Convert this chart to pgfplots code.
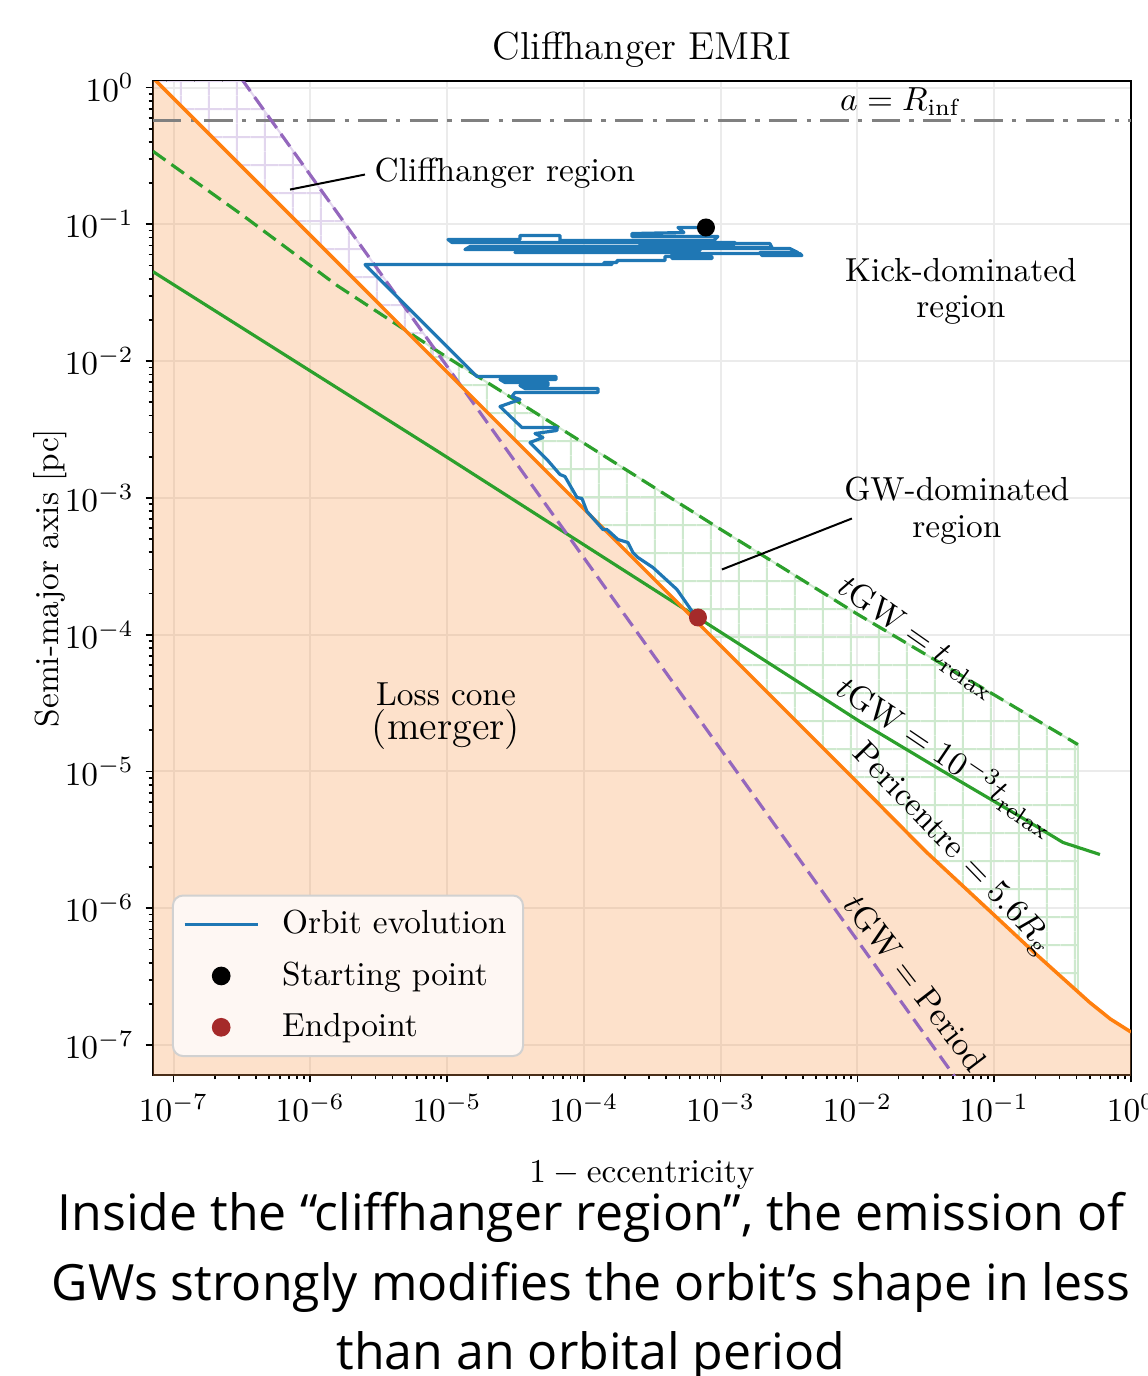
\documentclass[border=0pt]{standalone}
\usepackage{fontspec}
\usepackage{pgfplots}
\pgfplotsset{compat=1.18}
\usetikzlibrary{patterns}
\newfontfamily\capfont{Open Sans}
\definecolor{tabblue}{RGB}{31,119,180}
\definecolor{taborange}{RGB}{255,127,14}
\definecolor{peachbase}{RGB}{248,155,82}
\definecolor{tabgreen}{RGB}{44,160,44}
\definecolor{tabpurple}{RGB}{148,103,189}
\definecolor{lavhatch}{RGB}{226,214,238}
\definecolor{greenhatch}{RGB}{206,233,206}
\definecolor{endred}{RGB}{165,42,42}
\definecolor{refgray}{RGB}{128,128,128}
\definecolor{legbg}{RGB}{254,247,243}
\pgfdeclarepatternformonly{biggrid}{\pgfqpoint{0pt}{0pt}}{\pgfqpoint{8.34pt}{8.34pt}}{\pgfqpoint{8.34pt}{8.34pt}}{%
  \pgfsetlinewidth{0.6pt}%
  \pgfpathmoveto{\pgfqpoint{0pt}{4.17pt}}\pgfpathlineto{\pgfqpoint{8.34pt}{4.17pt}}%
  \pgfpathmoveto{\pgfqpoint{4.17pt}{0pt}}\pgfpathlineto{\pgfqpoint{4.17pt}{8.34pt}}%
  \pgfusepath{stroke}}
\begin{document}
\begin{tikzpicture}
\begin{axis}[
  name=ax,
  scale only axis, width=293.4pt, height=298.2pt,
  xmode=log, ymode=log,
  xmin=7.08e-8, xmax=1, ymin=6.04e-8, ymax=1.116,
  axis line style={line width=0.6pt},
  tick align=outside, tick pos=left,
  major tick length=2.2pt, minor tick length=1.3pt,
  every tick/.style={black, line width=0.5pt},
  grid=major, major grid style={black!8, line width=0.6pt},
  xtick={1e-7,1e-6,1e-5,1e-4,1e-3,1e-2,1e-1,1},
  ytick={1e-7,1e-6,1e-5,1e-4,1e-3,1e-2,1e-1,1},
  title={Cliffhanger EMRI},
  title style={font=\fontsize{11.7}{13}\selectfont, yshift=-5.6pt},
  xlabel={$1-\mathrm{eccentricity}$},
  ylabel={Semi-major axis [pc]},
  xlabel style={yshift=-5pt},
  ylabel style={yshift=-7.5pt},
  label style={font=\fontsize{10}{12}\selectfont},
  ticklabel style={font=\fontsize{10}{12}\selectfont},
  legend cell align=left,
  legend image code/.code={\draw[mark repeat=2,mark phase=2,#1] plot coordinates {(0pt,0pt) (11pt,0pt) (22pt,0pt)};},
  legend style={at={(0.0194,0.0181)}, anchor=south west, draw=black!18, line width=0.6pt,
    fill=legbg, rounded corners=3pt,
    font=\fontsize{10}{12}\selectfont, inner xsep=3pt, inner ysep=2.4pt, row sep=2.9pt,
    /tikz/every odd column/.append style={column sep=4.8pt}},
]
% loss cone fill
\addplot[draw=none, fill=peachbase, fill opacity=0.3, forget plot] coordinates {
 (7.079e-8,1.175) (1e-7,0.8318) (1e-6,0.08318) (1e-5,8.318e-3) (1e-4,8.318e-4)
 (1e-3,8.318e-5) (1e-2,8.318e-6) (3.162e-2,2.600e-6) (0.1,8.913e-7) (0.1995,4.677e-7)
 (0.3162,3.090e-7) (0.5012,2.042e-7) (0.7079,1.549e-7) (1,1.245e-7) (1,1e-8) (7.079e-8,1e-8)} -- cycle;
% cliffhanger hatch
\addplot[draw=lavhatch, line width=0.6pt, pattern=biggrid, pattern color=lavhatch, forget plot] coordinates {
 (7.079e-8,1.175) (2.512e-7,1.585) (1.271e-5,6.546e-3)} -- cycle;
% GW-dominated hatch
\addplot[draw=greenhatch, line width=0.6pt, pattern=biggrid, pattern color=greenhatch, forget plot] coordinates {
 (4.887e-6,0.01702) (8.913e-6,0.01148) (1e-4,2.512e-3) (1e-3,5.888e-4) (1e-2,1.413e-4)
 (0.1,3.631e-5) (0.4093,1.574e-5) (0.4093,2.460e-7) (0.3162,3.090e-7) (0.1995,4.677e-7)
 (0.1,8.913e-7) (3.162e-2,2.600e-6) (1e-2,8.318e-6) (1e-3,8.318e-5) (1e-4,8.318e-4) (1e-5,8.318e-3)} -- cycle;
% a = R_inf
\addplot[refgray, line width=0.9pt, dash pattern=on 8.5pt off 2.8pt on 1.3pt off 2.8pt, forget plot] coordinates {(7.079e-8,0.57) (1,0.57)};
% tGW = trelax
\addplot[tabgreen, line width=0.95pt, dash pattern=on 4.6pt off 2.2pt, forget plot] coordinates {
 (7.079e-8,0.3420) (3.162e-7,0.1175) (1.585e-6,0.03548) (8.913e-6,0.01148) (1e-4,2.512e-3)
 (1e-3,5.888e-4) (1e-2,1.413e-4) (0.1,3.631e-5) (0.4093,1.574e-5)};
% tGW = 1e-3 trelax
\addplot[tabgreen, line width=0.95pt, forget plot] coordinates {
 (7.079e-8,0.04508) (8.872e-6,2.138e-3) (1.384e-3,8.472e-5) (1.042e-2,2.317e-5) (0.04009,1.035e-5)
 (0.1542,4.688e-6) (0.3184,3.027e-6) (0.5929,2.472e-6)};
% tGW = period
\addplot[tabpurple, line width=0.95pt, dash pattern=on 4.6pt off 2.2pt, forget plot] coordinates {
 (2.512e-7,1.585) (0.0631,4.416e-8)};
% pericentre
\addplot[taborange, line width=1.05pt, forget plot] coordinates {
 (7.079e-8,1.175) (1e-7,0.8318) (1e-6,0.08318) (1e-5,8.318e-3) (1e-4,8.318e-4)
 (1e-3,8.318e-5) (1e-2,8.318e-6) (3.162e-2,2.600e-6) (0.1,8.913e-7) (0.1995,4.677e-7)
 (0.3162,3.090e-7) (0.5012,2.042e-7) (0.7079,1.549e-7) (1,1.245e-7)};
% orbit evolution
\addplot[tabblue, line width=0.95pt, line join=round] coordinates {
 (7.807e-4,0.09476) (4.874e-4,0.09476) (5.392e-4,0.08712) (2.247e-4,0.08565) (2.247e-4,0.08143)
 (9.557e-4,0.08143) (8.933e-4,0.07613) (6.688e-5,0.07613) (6.688e-5,0.08281) (3.411e-5,0.08281)
 (3.411e-5,0.07742) (1.015e-5,0.07742) (1.086e-5,0.07362) (1.272e-3,0.07362) (1.230e-3,0.06998)
 (2.571e-4,0.06998) (2.571e-4,0.07238) (2.293e-3,0.07238) (2.371e-3,0.06766) (1.019e-4,0.06766)
 (1.019e-4,0.06542) (1.351e-5,0.06542) (1.470e-5,0.06881) (5.041e-4,0.06881) (5.041e-4,0.06220)
 (3.135e-5,0.06220) (3.411e-5,0.06433) (7.058e-4,0.06433) (7.058e-4,0.06653) (3.211e-3,0.06653)
 (3.674e-3,0.06220) (1.938e-3,0.06220) (2.004e-3,0.05914) (3.929e-3,0.05914) (3.800e-3,0.06116)
 (4.406e-4,0.06116) (4.406e-4,0.05623) (8.638e-4,0.05623) (8.638e-4,0.05815) (3.915e-4,0.05815)
 (3.915e-4,0.05437) (1.746e-4,0.05437) (1.746e-4,0.05257) (1.403e-4,0.05257) (1.605e-4,0.05082)
 (2.512e-6,0.05082) (1.654e-5,7.716e-3) (6.253e-5,7.716e-3) (6.253e-5,7.336e-3) (2.436e-5,7.336e-3)
 (2.650e-5,6.975e-3) (5.466e-5,6.975e-3) (5.466e-5,6.631e-3) (3.411e-5,6.631e-3) (3.710e-5,6.306e-3)
 (1.268e-4,6.306e-3) (1.268e-4,5.895e-3) (3.135e-5,5.895e-3) (2.981e-5,5.511e-3) (3.411e-5,5.240e-3)
 (2.436e-5,4.657e-3) (3.528e-5,3.270e-3) (6.359e-5,3.270e-3) (6.359e-5,3.109e-3) (4.390e-5,2.956e-3)
 (5.023e-5,2.763e-3) (4.036e-5,2.541e-3) (5.375e-5,1.909e-3) (6.688e-5,1.483e-3) (7.274e-5,1.434e-3)
 (8.905e-5,1.007e-3) (9.685e-5,9.900e-4) (1.054e-4,7.954e-4) (1.379e-4,5.875e-4) (1.475e-4,5.875e-4)
 (1.776e-4,4.965e-4) (2.101e-4,4.721e-4) (2.285e-4,3.989e-4) (2.486e-4,3.667e-4) (3.200e-4,3.098e-4)
 (4.793e-4,2.140e-4) (6.273e-4,1.453e-4) (6.83e-4,1.336e-4)};
\addlegendentry{Orbit evolution}
\addplot[only marks, mark=*, mark size=2.5pt, black] coordinates {(7.81e-4,0.0948)};
\addlegendentry{Starting point}
\addplot[only marks, mark=*, mark size=2.5pt, endred, mark options={fill=endred, draw=endred}] coordinates {(6.83e-4,1.336e-4)};
\addlegendentry{Endpoint}
% annotations
\node[anchor=west, inner sep=0pt, font=\fontsize{10}{12}\selectfont] at (axis cs:2.924e-6,0.2351) {Cliffhanger region};
\draw[line width=0.6pt] (axis cs:7.11e-7,0.1796) -- (axis cs:2.512e-6,0.2312);
\node[align=center, inner sep=0pt, font=\fontsize{10}{11}\selectfont] at (axis cs:0.05708,0.03227) {Kick-dominated\\region};
\node[align=center, inner sep=0pt, font=\fontsize{10}{11}\selectfont] at (axis cs:0.05336,8.087e-4) {GW-dominated\\region};
\draw[line width=0.6pt] (axis cs:1.022e-3,2.997e-4) -- (axis cs:9.117e-3,7.07e-4);
\node[inner sep=0pt, font=\fontsize{10}{12}\selectfont] at (axis cs:9.818e-6,3.655e-5) {Loss cone};
\node[inner sep=0pt, font=\fontsize{12}{14}\selectfont] at (axis cs:9.818e-6,2.028e-5) {(merger)};
\node[inner sep=0pt, font=\fontsize{10}{12}\selectfont] at (axis cs:0.02045,0.7901) {$a = R_\mathrm{inf}$};
\node[rotate=-35, inner sep=0pt, font=\fontsize{10}{12}\selectfont] at (axis cs:0.02769,9.539e-5) {$t\mathrm{GW} = t_\mathrm{relax}$};
\node[rotate=-34, inner sep=0pt, font=\fontsize{10}{12}\selectfont] at (axis cs:0.04487,1.293e-5) {$t\mathrm{GW} = 10^{-3} t_\mathrm{relax}$};
\node[rotate=-46, inner sep=0pt, font=\fontsize{10}{12}\selectfont] at (axis cs:0.04883,2.690e-6) {Pericentre $= 5.6 R_\mathrm{g}$};
\node[rotate=-52.5, inner sep=0pt, font=\fontsize{10}{12}\selectfont] at (axis cs:0.02662,2.852e-7) {$t\mathrm{GW} = \mathrm{Period}$};
\end{axis}
\node[anchor=base, font=\capfont\fontsize{15}{18}\selectfont] at ([shift={(131.4pt,-46.5pt)}]ax.south west) {Inside the “cliffhanger region”, the emission of};
\node[anchor=base, font=\capfont\fontsize{15}{18}\selectfont] at ([shift={(131.4pt,-67.5pt)}]ax.south west) {GWs strongly modifies the orbit’s shape in less};
\node[anchor=base, font=\capfont\fontsize{15}{18}\selectfont] at ([shift={(131.4pt,-88.2pt)}]ax.south west) {than an orbital period};
\pgfresetboundingbox
\useasboundingbox ([shift={(-45.9pt,-90.3pt)}]ax.south west) rectangle ([shift={(298.5pt,322.5pt)}]ax.south west);
\end{tikzpicture}
\end{document}
